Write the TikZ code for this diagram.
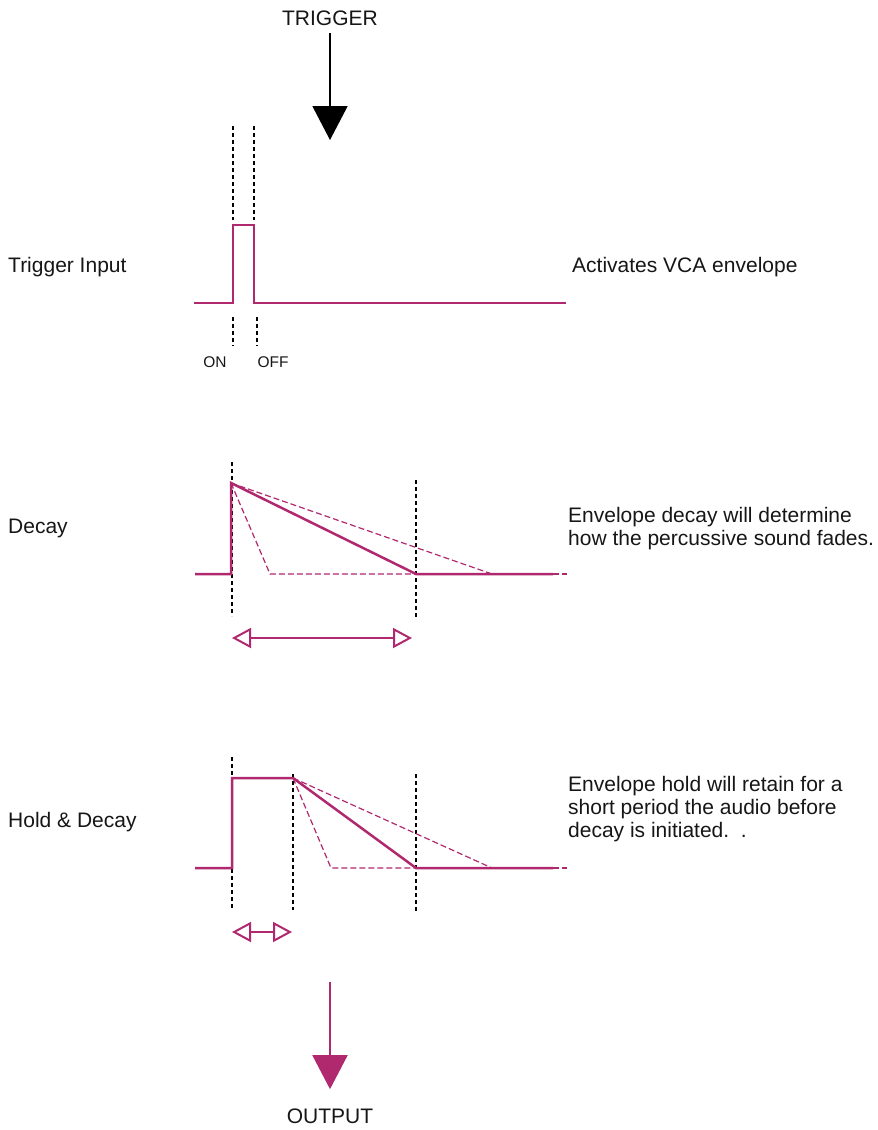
\documentclass[tikz,border=0pt]{standalone}
\usepackage{fontspec}
\setmainfont{Liberation Sans}
\usetikzlibrary{arrows.meta,positioning}
\definecolor{evInk}{HTML}{161616}
\definecolor{evMag}{HTML}{B0296F}

\tikzset{
  lbl/.style={anchor=base west,inner sep=0pt,text=evInk,font=\fontsize{21}{23}\selectfont},
  sidenote/.style={anchor=north west,inner sep=0pt,align=left,text=evInk,font=\fontsize{21}{23}\selectfont},
  title/.style={anchor=base,inner sep=0pt,text=evInk,font=\fontsize{21}{23}\selectfont},
  tick/.style={anchor=base,inner sep=0pt,text=evInk,font=\fontsize{15.5}{17}\selectfont},
  wave/.style={draw=evMag,line width=2.5pt,line join=miter},
  ghost/.style={draw=evMag,line width=1.2pt,dash pattern=on 6pt off 3pt},
  cue/.style={draw=black,line width=1.1pt,dash pattern=on 4pt off 3pt},
  spanarrow/.style={draw=evMag,line width=2pt,
    {Triangle[open,length=19pt,width=20pt]}-{Triangle[open,length=19pt,width=20pt]}},
}

\begin{document}
\begin{tikzpicture}[x=1pt,y=-1pt]
  \useasboundingbox (0,0) rectangle (878,1130);

  % trigger in
  \node[title] (trig) at (330,25) {TRIGGER};
  \coordinate (trigtip) at (330,140);
  \draw[line width=2pt,-{Triangle[length=34pt,width=35pt]},shorten <=8pt] (trig.south) -- (trigtip);

  % trigger input row
  \node[lbl] (rowtrig) at (8,272) {Trigger Input};
  \node[lbl] (acttext) at (572,272) {Activates VCA envelope};
  \draw[wave] (194,303) -- (233,303) -- (233,225) -- (254,225) -- (254,303) -- (566,303);
  \draw[cue] (233,126) -- (233,220);
  \draw[cue] (254,126) -- (254,220);
  \draw[cue] (233,317) -- (233,346);
  \draw[cue] (257,317) -- (257,346);
  \node[tick] (onlbl) at (215,367) {ON};
  \node[tick] (offlbl) at (273,367) {OFF};

  % decay row
  \node[lbl] (rowdecay) at (8,533) {Decay};
  \node[sidenote] (decaytext) at (568,507.5) {Envelope decay will determine\\how the percussive sound fades.};
  \draw[cue] (232,462) -- (232,616);
  \draw[cue] (416,480) -- (416,617);
  \draw[ghost] (231,483) -- (270,574) -- (416,574);
  \draw[ghost] (231,483) -- (492,574);
  \draw[ghost] (553,574) -- (567,574);
  \draw[wave] (195,574) -- (231,574) -- (231,483) -- (416,574) -- (553,574);
  \coordinate (dstart) at (232,638);
  \coordinate (dend) at (412,638);
  \draw[spanarrow] (dstart) -- (dend);

  % hold and decay row
  \node[lbl] (rowhold) at (8,827) {Hold \& Decay};
  \node[sidenote] (holdtext) at (568,776.5) {Envelope hold will retain for a\\short period the audio before\\decay is initiated.~~.};
  \draw[cue] (232,757) -- (232,910);
  \draw[cue] (293,774) -- (293,910);
  \draw[cue] (416,774) -- (416,912);
  \draw[ghost] (293,778) -- (331,868) -- (416,868);
  \draw[ghost] (293,778) -- (492,868);
  \draw[ghost] (553,868) -- (567,868);
  \draw[wave] (195,868) -- (232,868) -- (232,778) -- (293,778) -- (416,868) -- (553,868);
  \coordinate (hstart) at (232,932);
  \coordinate (hend) at (292,932);
  \draw[spanarrow] (hstart) -- (hend);

  % output
  \coordinate (outtop) at (330,982);
  \node[title] (out) at (330,1123) {OUTPUT};
  \draw[draw=evMag,line width=2pt,-{Triangle[length=34pt,width=35pt,fill=evMag]},shorten >=19pt] (outtop) -- (out.north);
\end{tikzpicture}
\end{document}
